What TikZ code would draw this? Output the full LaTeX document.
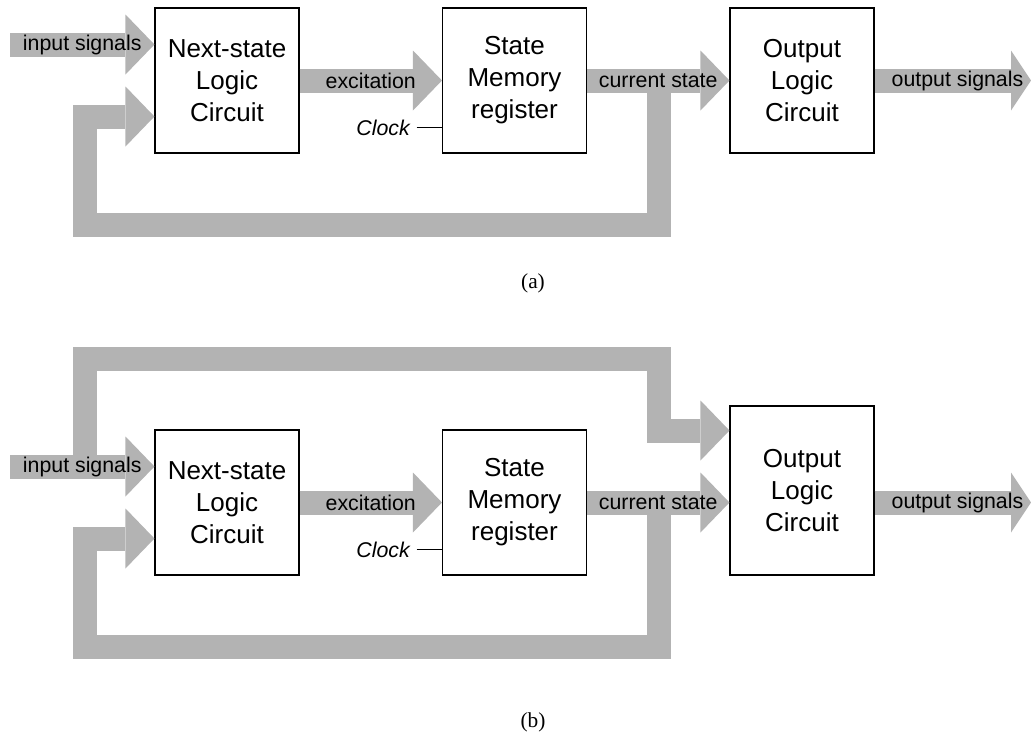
\documentclass[tikz,border=0pt]{standalone}
\usepackage{fontspec}
\setmainfont{Liberation Sans}
\newfontfamily\capfont{Liberation Serif}
\usetikzlibrary{arrows.meta}
\definecolor{busgray}{HTML}{B3B3B3}

\begin{document}
\begin{tikzpicture}[
        x=0.75pt, y=-0.75pt,
        block/.style={draw, line width=0.8pt, fill=white, align=center,
        minimum width=108pt, minimum height=108.75pt, inner sep=0pt,
        font=\fontsize{19.5}{24}\selectfont},
        bus/.style={draw=busgray, line width=18pt, line join=miter,
        -{Triangle[length=21.75pt, width=45pt, line width=0pt]}},
        buslabel/.style={font=\fontsize{16}{19}\selectfont, inner sep=0pt, text=black},
        clocklabel/.style={font=\fontsize{16}{19}\selectfont\itshape, anchor=east, inner sep=0pt},
        caption/.style={font=\capfont\fontsize{16}{19}\selectfont},
        ]
        \useasboundingbox (0,0) rectangle (1031,732);

        % ── Layout: block columns and the two rows ──
        \def\xa{227}    % next-state column
        \def\xb{514.5}  % state memory column
        \def\xc{802}    % output logic column
        \def\ya{80.5}   % row (a)
        \def\yb{502.5}  % row (b)

        % ── Panel (a): Moore machine ──
        \node[block] (nslA) at (\xa,\ya) {Next-state\\Logic\\Circuit};
        \node[block] (smrA) at (\xb,\ya) {State\\Memory\\register};
        \node[block] (olcA) at (\xc,\ya) {Output\\Logic\\Circuit};

        \coordinate (inA) at (10,44.5);
        \coordinate (tapA) at (659,\ya);
        \coordinate (fbA) at (84.5,116.5);
        \coordinate (outA) at (1031,\ya);

        % feedback first, so the labels stay on top
        \draw[bus] (tapA) -- ++(0,144) -| (fbA) -- (fbA -| nslA.west);
        \draw[bus] (inA) -- (inA -| nslA.west) node[buslabel, midway] (inlblA) {input signals};
        \draw[bus] (nslA.east) -- (smrA.west) node[buslabel, midway] (exlblA) {excitation};
        \draw[bus] (smrA.east) -- (olcA.west) node[buslabel, midway] (cslblA) {current state};
        \draw[bus, -{Triangle[length=15pt, width=45pt, line width=0pt]}] (olcA.east) -- (outA)
            node[buslabel, pos=0.53] (outlblA) {output signals};

        \node[clocklabel] (clkA) at (410,127.5) {Clock};
        \draw[line width=0.8pt] ([xshift=5pt]clkA.east) -- (clkA.east -| smrA.west);

        \node[caption] (capA) at (533,283) {(a)};

        % ── Panel (b): Mealy machine ──
        \node[block] (nslB) at (\xa,\yb) {Next-state\\Logic\\Circuit};
        \node[block] (smrB) at (\xb,\yb) {State\\Memory\\register};
        \node[block, minimum height=126.75pt] (olcB) at (\xc,490.5) {Output\\Logic\\Circuit};

        \coordinate (inB) at (10,466.5);
        \coordinate (forkB) at (84.5,466.5);
        \coordinate (bendB) at (659,430.5);
        \coordinate (tapB) at (659,\yb);
        \coordinate (fbB) at (84.5,538.5);
        \coordinate (outB) at (1031,\yb);

        % inputs also go straight to the output logic
        \draw[bus] (forkB) -- ++(0,-107.5) -| (bendB) -- (bendB -| olcB.west);
        \draw[bus] (tapB) -- ++(0,144) -| (fbB) -- (fbB -| nslB.west);
        \draw[bus] (inB) -- (inB -| nslB.west) node[buslabel, midway] (inlblB) {input signals};
        \draw[bus] (nslB.east) -- (smrB.west) node[buslabel, midway] (exlblB) {excitation};
        \draw[bus] (smrB.east) -- (smrB.east -| olcB.west) node[buslabel, midway] (cslblB) {current state};
        \draw[bus, -{Triangle[length=15pt, width=45pt, line width=0pt]}] (smrB.east -| olcB.east) -- (outB)
            node[buslabel, pos=0.53] (outlblB) {output signals};

        \node[clocklabel] (clkB) at (410,549.5) {Clock};
        \draw[line width=0.8pt] ([xshift=5pt]clkB.east) -- (clkB.east -| smrB.west);

        \node[caption] (capB) at (533,722) {(b)};

\end{tikzpicture}
\end{document}
